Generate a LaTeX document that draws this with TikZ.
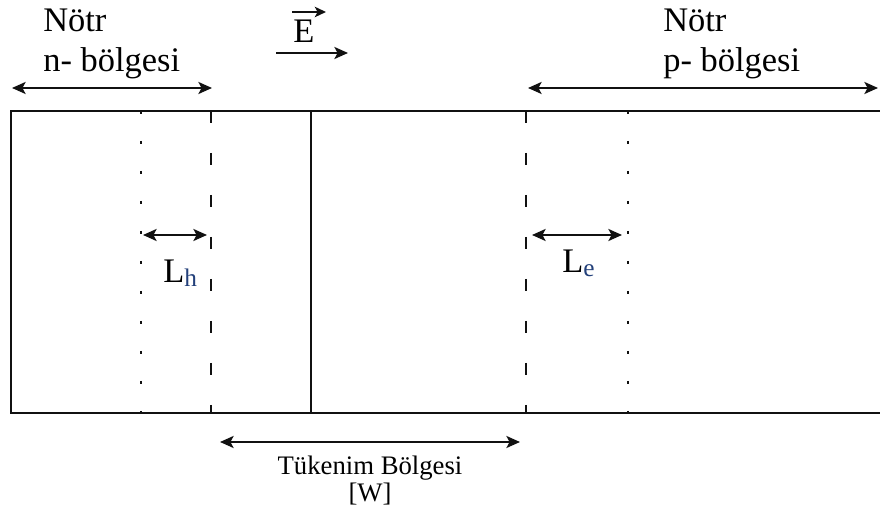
\documentclass[tikz,border=0pt]{standalone}
\usepackage{fontspec}
\setmainfont{Liberation Serif}
\usetikzlibrary{arrows.meta}
\definecolor{Ink}{HTML}{111111}
\definecolor{SubBlue}{HTML}{23407A}
\tikzset{
  edge/.style={draw=Ink, line width=1.6pt},
  dashedge/.style={edge, dash pattern=on 0.3cm off 0.75cm},
  dotedge/.style={edge, dash pattern=on 0.08cm off 0.67cm},
  span/.style={{Stealth[length=3.4mm,width=3mm,inset=0.8mm]}-{Stealth[length=3.4mm,width=3mm,inset=0.8mm]}, draw=Ink, line width=1.6pt},
  field/.style={-{Stealth[length=3.4mm,width=3mm,inset=0.8mm]}, draw=Ink, line width=1.6pt},
  bigtext/.style={inner sep=0pt, anchor=base west, text=black, font=\fontsize{24.5}{28}\selectfont},
  smalltext/.style={inner sep=0pt, anchor=base, text=black, font=\fontsize{19}{22}\selectfont}
}
\newcommand{\sublab}[1]{L\raisebox{-0.1cm}{\fontsize{18}{18}\selectfont\color{SubBlue}#1}}
\begin{document}
\begin{tikzpicture}[x=1cm,y=1cm]
  \useasboundingbox (0,0) rectangle (22,12.825);
  % junction bar
  \coordinate (tl) at (0.275,10.05);
  \coordinate (bl) at (0.275,2.5);
  \coordinate (tr) at (22,10.05);
  \coordinate (br) at (22,2.5);
  \draw[edge] (tr) -- (tl) -- (bl) -- (br);
  % region boundaries
  \draw[dotedge] (3.525,10.05) -- (3.525,2.5);
  \draw[dashedge] (5.275,10.05) -- (5.275,2.5);
  \draw[edge] (7.775,10.05) -- (7.775,2.5);
  \draw[dashedge] (13.15,10.05) -- (13.15,2.5);
  \draw[dotedge] (15.7,10.05) -- (15.7,2.5);
  % neutral regions
  \node[bigtext] (ntop) at (1.075,12.025) {Nötr};
  \node[bigtext] (nreg) at (1.075,11.025) {n- bölgesi};
  \coordinate (na) at (0.3,10.625);
  \coordinate (nb) at (5.3,10.625);
  \draw[span] (na) -- (nb);
  \node[bigtext] (ptop) at (16.575,12.025) {Nötr};
  \node[bigtext] (preg) at (16.575,11.025) {p- bölgesi};
  \coordinate (pa) at (13.2,10.625);
  \coordinate (pb) at (21.95,10.625);
  \draw[span] (pa) -- (pb);
  % field
  \node[bigtext] (efield) at (7.325,11.75) {E};
  \coordinate (ea) at (7.3,12.525);
  \coordinate (eb) at (8.15,12.525);
  \draw[-{Stealth[length=2.8mm,width=2.6mm,inset=0.7mm]}, draw=Ink, line width=1.6pt] (ea) -- (eb);
  \coordinate (fa) at (6.9,11.5);
  \coordinate (fb) at (8.7,11.5);
  \draw[field] (fa) -- (fb);
  % diffusion lengths
  \coordinate (ha) at (3.575,6.95);
  \coordinate (hb) at (5.175,6.95);
  \draw[span] (ha) -- (hb);
  \node[bigtext] (lh) at (4.075,5.75) {\sublab{h}};
  \coordinate (la) at (13.3,6.95);
  \coordinate (lb) at (15.55,6.95);
  \draw[span] (la) -- (lb);
  \node[bigtext] (le) at (14.05,6.0) {\sublab{e}};
  % depletion region
  \coordinate (wa) at (5.5,1.775);
  \coordinate (wb) at (13.0,1.775);
  \draw[span] (wa) -- (wb);
  \node[smalltext] (wname) at (9.25,0.95) {Tükenim Bölgesi};
  \node[smalltext] (wsym) at (9.25,0.275) {[W]};
\end{tikzpicture}
\end{document}
